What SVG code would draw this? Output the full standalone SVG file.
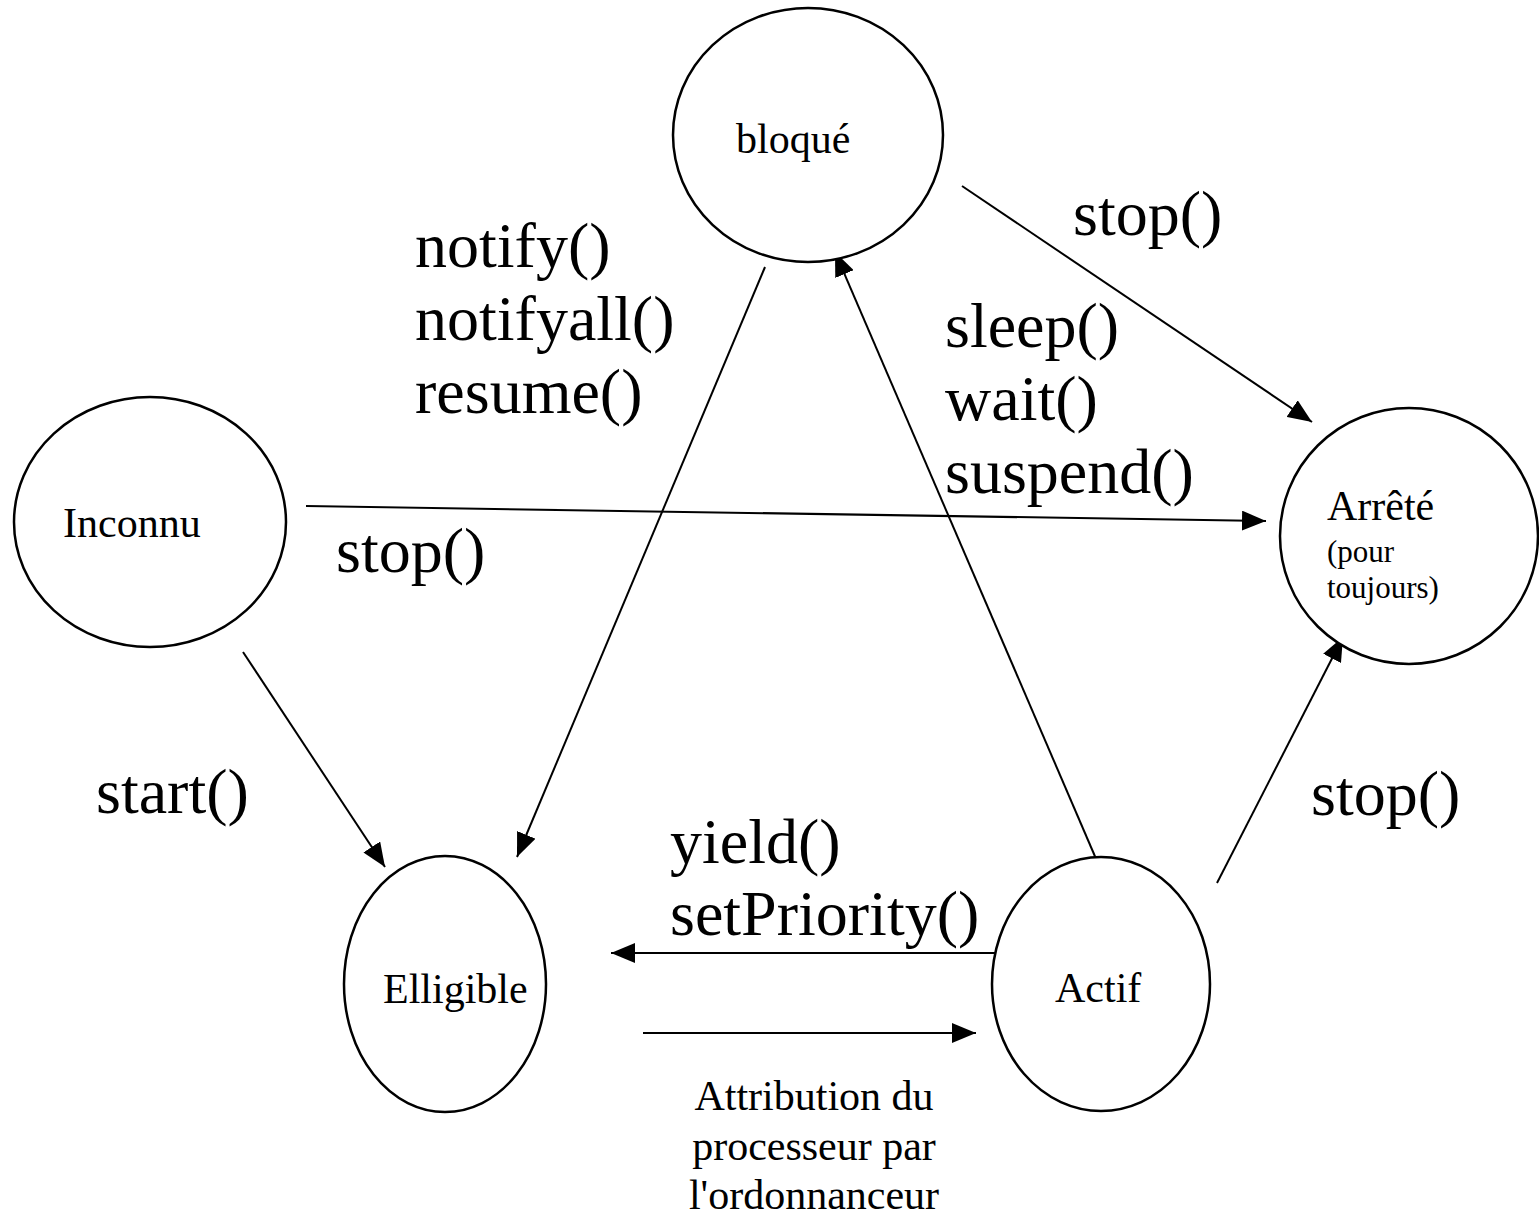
<svg xmlns="http://www.w3.org/2000/svg" width="1539" height="1220" viewBox="0 0 1539 1220">
  <style>
    .state { fill: #fff; stroke: #000; stroke-width: 2.5; }
    .edge { stroke: #000; stroke-width: 2; fill: none; marker-end: url(#arrow); }
    text { font-family: "Liberation Serif", "Times New Roman", serif; fill: #000; }
    .name { font-size: 42px; }
    .note { font-size: 31px; }
    .call { font-size: 64px; }
  </style>
  <defs>
    <marker id="arrow" viewBox="0 0 24 20" refX="24" refY="10" markerWidth="24" markerHeight="20" markerUnits="userSpaceOnUse" orient="auto">
      <path d="M0,0 L24,10 L0,20 z" fill="#000"/>
    </marker>
  </defs>
  <rect width="1539" height="1220" fill="#fff"/>

  <!-- transitions -->
  <g id="connectors">
    <line class="edge" x1="306" y1="506" x2="1266" y2="521"/>
    <line class="edge" x1="243" y1="652" x2="385" y2="867"/>
    <line class="edge" x1="765" y1="267" x2="517" y2="857"/>
    <line class="edge" x1="1100" y1="868" x2="835" y2="252"/>
    <line class="edge" x1="962" y1="186" x2="1312" y2="422"/>
    <line class="edge" x1="1217" y1="883" x2="1343" y2="637"/>
    <line class="edge" x1="1006" y1="953" x2="611" y2="953"/>
    <line class="edge" x1="643" y1="1033" x2="976" y2="1033"/>
  </g>

  <!-- states -->
  <g id="bloque">
    <ellipse class="state" cx="808" cy="135" rx="135" ry="127"/>
    <text class="name" x="736" y="153">bloqué</text>
  </g>
  <g id="inconnu">
    <ellipse class="state" cx="150" cy="522" rx="136" ry="125"/>
    <text class="name" x="63" y="537">Inconnu</text>
  </g>
  <g id="arrete">
    <ellipse class="state" cx="1409" cy="536" rx="129" ry="128"/>
    <text class="name" x="1327" y="520">Arrêté</text>
    <text class="note" x="1327" y="562">(pour</text>
    <text class="note" x="1327" y="598">toujours)</text>
  </g>
  <g id="elligible">
    <ellipse class="state" cx="445" cy="984" rx="101" ry="128"/>
    <text class="name" x="383" y="1003">Elligible</text>
  </g>
  <g id="actif">
    <ellipse class="state" cx="1101" cy="984" rx="109" ry="127"/>
    <text class="name" x="1055" y="1002">Actif</text>
  </g>

  <!-- transition labels -->
  <g id="labels">
    <text class="call" x="415" y="267">notify()</text>
    <text class="call" x="415" y="340">notifyall()</text>
    <text class="call" x="415" y="413">resume()</text>
    <text class="call" x="1073" y="235">stop()</text>
    <text class="call" x="945" y="347">sleep()</text>
    <text class="call" x="945" y="420">wait()</text>
    <text class="call" x="945" y="493">suspend()</text>
    <text class="call" x="336" y="572">stop()</text>
    <text class="call" x="96" y="813">start()</text>
    <text class="call" x="1311" y="815">stop()</text>
    <text class="call" x="670" y="863">yield()</text>
    <text class="call" x="670" y="935">setPriority()</text>
    <text class="name" x="814" y="1110" text-anchor="middle">Attribution du</text>
    <text class="name" x="814" y="1160" text-anchor="middle">processeur par</text>
    <text class="name" x="814" y="1209" text-anchor="middle">l'ordonnanceur</text>
  </g>
</svg>
